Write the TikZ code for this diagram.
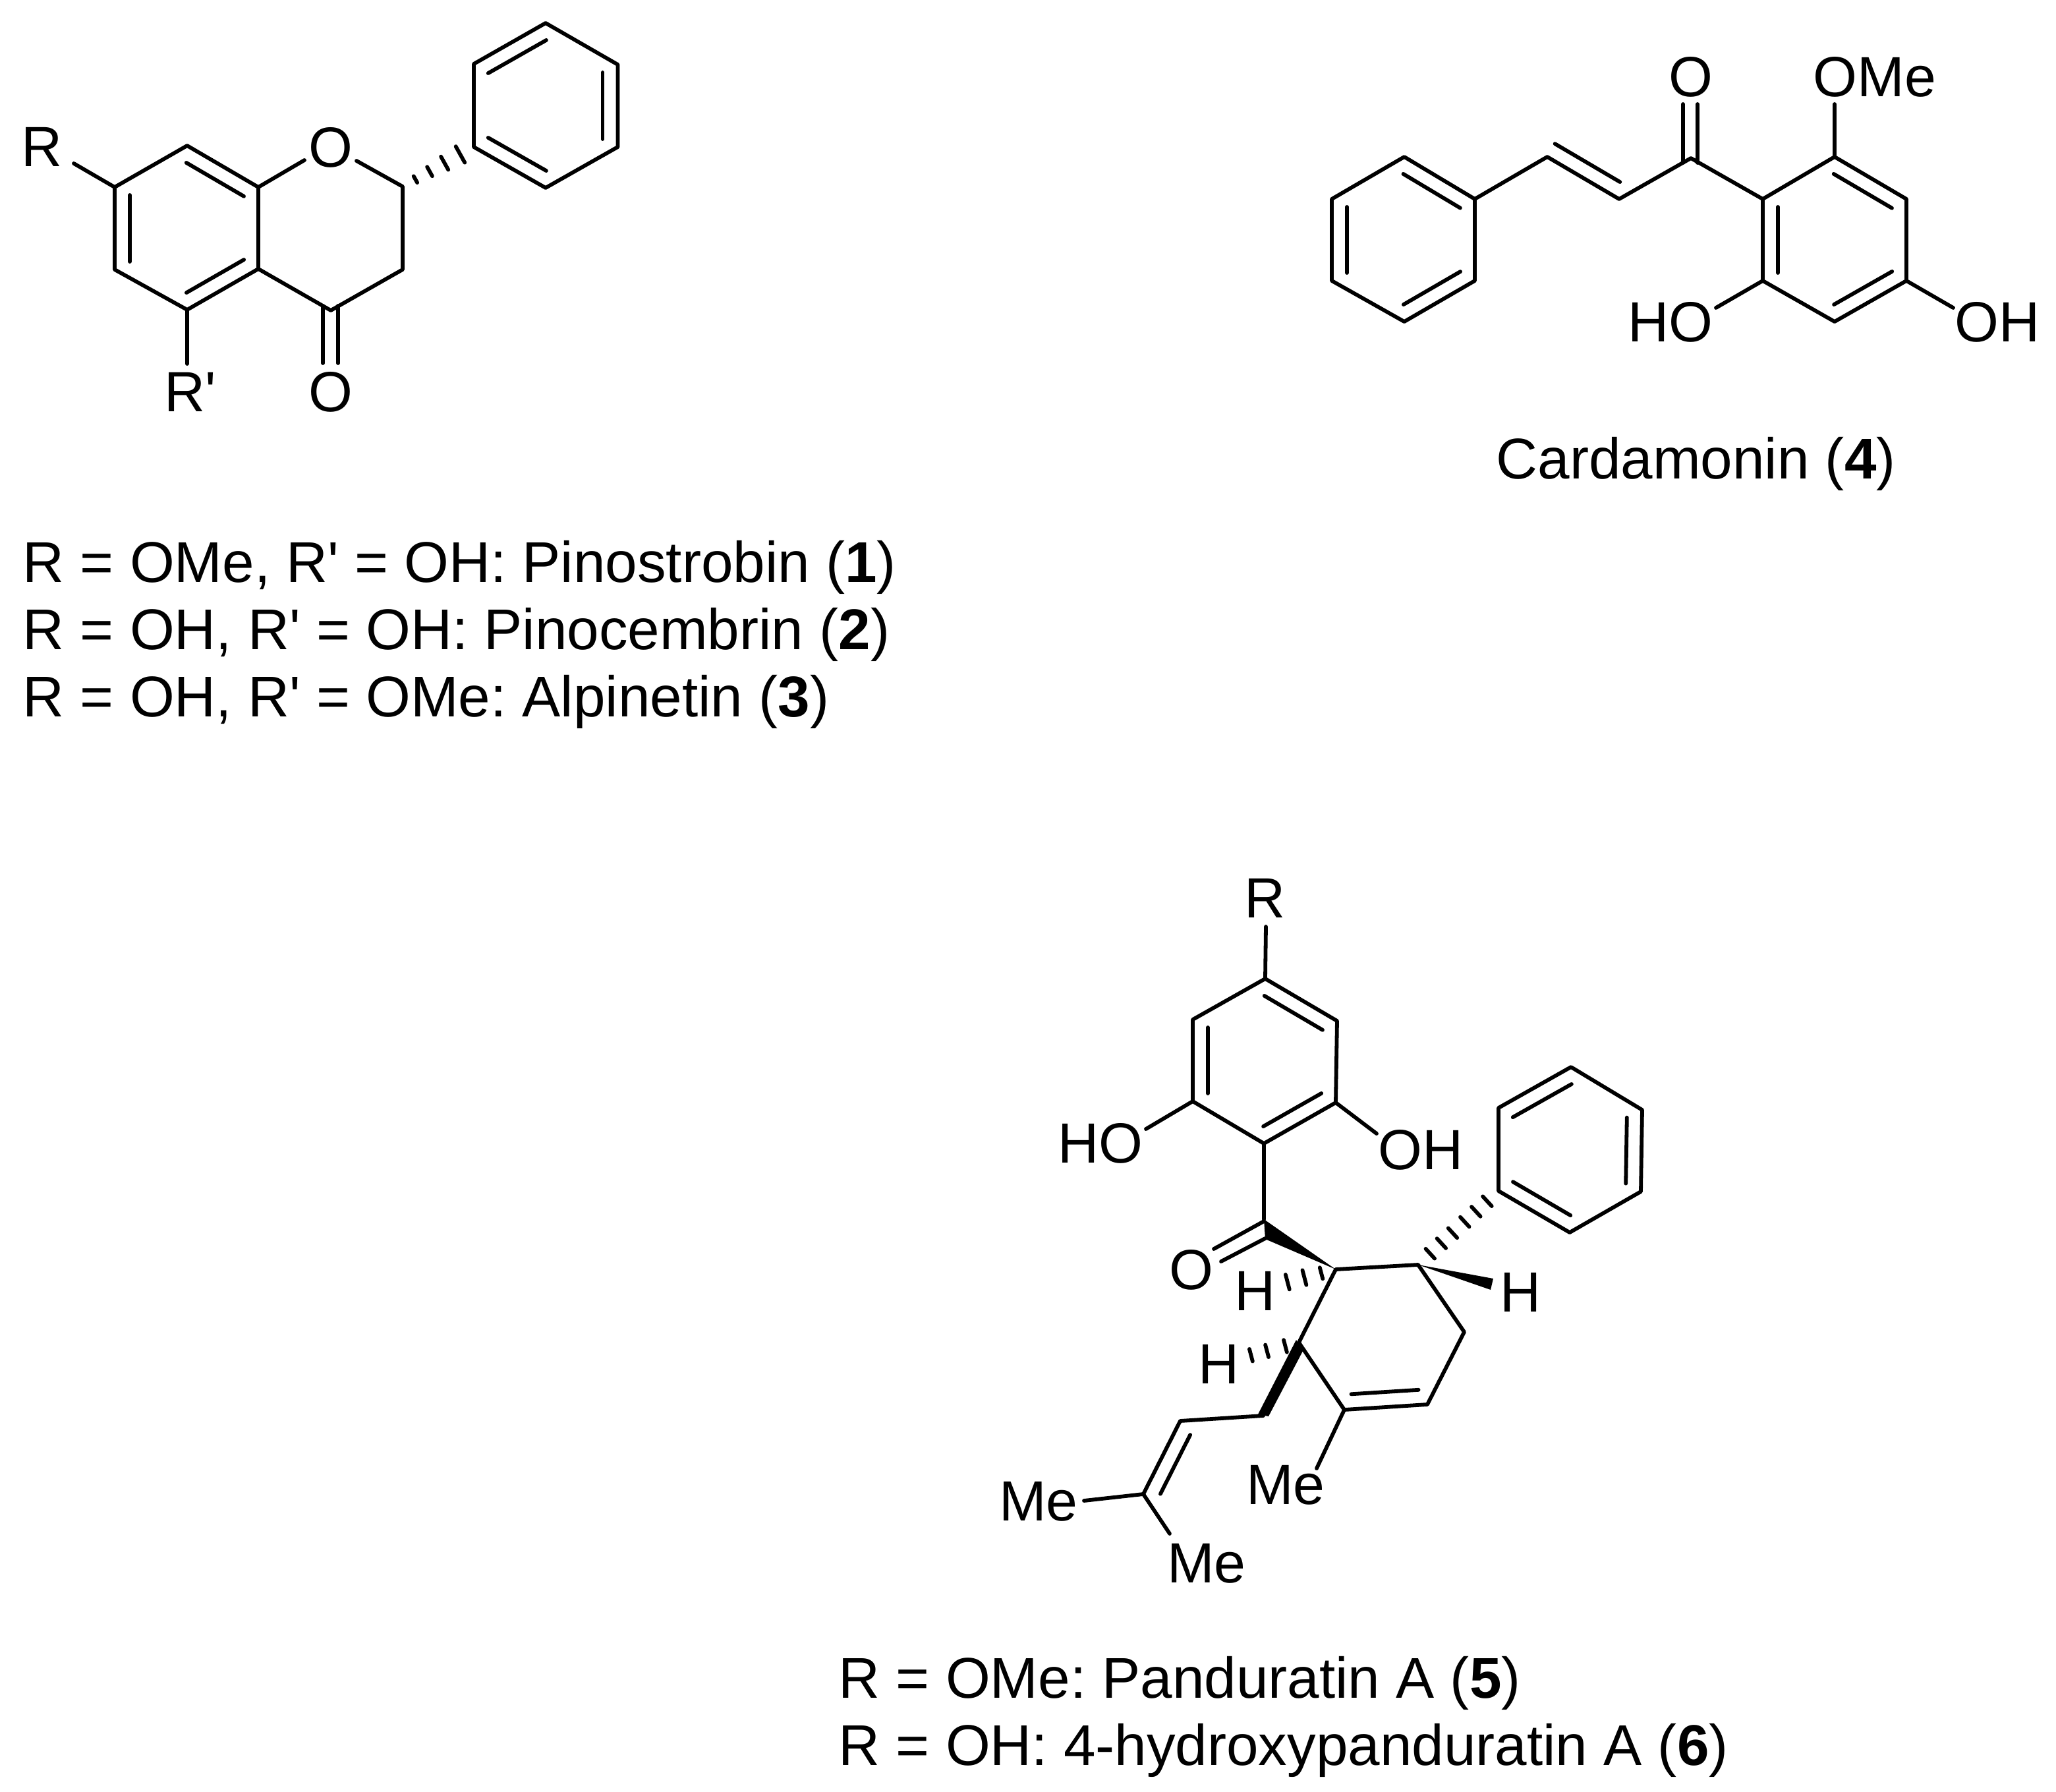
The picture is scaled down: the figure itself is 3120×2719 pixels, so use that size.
\documentclass[tikz,border=0pt]{standalone}
\usepackage{fontspec}
\setmainfont{Liberation Sans}[Ligatures=TeXOff]
\usetikzlibrary{calc}
\frenchspacing
\tikzset{
  bond/.style={line width=1.45pt,line cap=round,line join=round,black},
  hashmark/.style={line width=1.45pt,line cap=round,black},
  lab/.style={inner sep=0pt,font=\frenchspacing\fontsize{21.5}{25}\selectfont,text height=15.4pt,text depth=0pt},
  caption/.style={inner sep=0pt,anchor=base west,font=\frenchspacing\fontsize{21.8}{26}\selectfont},
}
% inner line of a double bond, on the left (on screen) of a -> b
\newcommand{\dbl}[4]{\draw[bond,shorten <=#3pt,shorten >=#4pt] ($(#1)!5.75pt!90:(#2)$) -- ($(#2)!5.75pt!-90:(#1)$);}
\newcommand{\hashb}[3]{\foreach \t/\h in {#3}{\draw[hashmark] ($(#1)!\t!(#2)!\h pt!90:(#2)$) -- ($(#1)!\t!(#2)!\h pt!-90:(#2)$);}}
\begin{document}
\begin{tikzpicture}[x=0.25pt,y=-0.25pt]
\useasboundingbox (0,0) rectangle (3120,2719);

% ---------- flavanone
\foreach \n/\x/\y in {a1/828/35,a2/719/97,a3/719/223,a4/828/285,a5/937.5/223,a6/937.5/98,
  c2/611/283,c3/611/409,c4/502/471,c4a/392/408,c8a/392/284,c8/284/221,c7/174/284,c6/174/409,c5/284/470,
  eR/112/248,eRp/284/552,eOa/462/243,eOb/541/244,
  k1/490/464,k2/490/551,k3/513/464,k4/513/551}
  {\coordinate (\n) at (\x,\y);}
\node[lab] (fR) at (64,222) {R};
\node[lab] (fRp) at (289,594) {R'};
\node[lab] (fO1) at (502,223) {O};
\node[lab] (fO2) at (502,594) {O};
\draw[bond] (a1)--(a2)--(a3)--(a4)--(a5)--(a6)--cycle;
\dbl{a1}{a2}{3}{3}\dbl{a3}{a4}{3}{3}\dbl{a5}{a6}{3}{3}
\draw[bond] (c8)--(c7)--(c6)--(c5)--(c4a)--(c8a)--cycle;
\draw[bond] (c4a)--(c4)--(c3)--(c2)--(eOb);
\draw[bond] (c8a)--(eOa);
\dbl{c8a}{c8}{3}{3}\dbl{c7}{c6}{3}{3}\dbl{c5}{c4a}{3}{3}
\draw[bond] (c7)--(eR);
\draw[bond] (c5)--(eRp);
\draw[bond] (k1)--(k2);
\draw[bond] (k3)--(k4);
\hashb{c2}{a3}{0.18/1.4,0.38/2,0.59/2.85,0.81/3.5}
\node[caption] (t1) at (34,883) {R = OMe, R' = OH: Pinostrobin (\textbf{1})};
\node[caption] (t2) at (34,985) {R = OH, R' = OH: Pinocembrin (\textbf{2})};
\node[caption] (t3) at (34,1087) {R = OH, R' = OMe: Alpinetin (\textbf{3})};

% ---------- cardamonin
\foreach \n/\x/\y in {b1/2131/238,b2/2021/302,b3/2021/426,b4/2131/488,b5/2238/426,b6/2238/302,
  d1/2348/238,d2/2457/302,d3/2566/240,
  r1/2675/302,r2/2675/426,r3/2784/488,r4/2893/426,r5/2893/302,r6/2784/238,
  eO1/2784/158,eHO/2604/467,eOH/2964/467,
  m1/2554/247,m2/2554/158,m3/2576/247,m4/2576/158}
  {\coordinate (\n) at (\x,\y);}
\node[lab] (cO) at (2566,116) {O};
\node[lab] (cOMe) at (2845,116) {OMe};
\node[lab] (cHO) at (2535,488) {HO};
\node[lab] (cOH) at (3031,488) {OH};
\draw[bond] (b1)--(b2)--(b3)--(b4)--(b5)--(b6)--cycle;
\dbl{b2}{b3}{3}{3}\dbl{b4}{b5}{3}{3}\dbl{b6}{b1}{3}{3}
\draw[bond] (b6)--(d1)--(d2)--(d3)--(r1);
\dbl{d1}{d2}{0}{3}
\draw[bond] (r1)--(r2)--(r3)--(r4)--(r5)--(r6)--cycle;
\dbl{r1}{r2}{3}{3}\dbl{r3}{r4}{3}{3}\dbl{r5}{r6}{3}{3}
\draw[bond] (m1)--(m2);
\draw[bond] (m3)--(m4);
\draw[bond] (r6)--(eO1);
\draw[bond] (r2)--(eHO);
\draw[bond] (r4)--(eOH);
\node[caption] (t4) at (2270,726) {Cardamonin (\textbf{4})};

% ---------- panduratin
\foreach \n/\x/\y in {p1/1920/1485,p2/1810/1547,p3/1810/1671,p4/1918/1735,p5/2027/1673,p6/2029/1549,
  q1/2384/1619,q2/2274/1681,q3/2274/1807,q4/2382/1870,q5/2490/1808,q6/2492/1684,
  co/1918/1850,A/2027/1926,B/2152/1919,C/2222/2021,D/2166/2131,E/2040/2139,F/1971/2037,
  w1/1920/1880,w2/2266/1940,w3/2262/1957,
  f1/1967/2033,f2/1977/2050,f3/1925/2149,f4/1909/2146,
  g0/1917/2148,g1/1791/2156,g2/1735/2267,
  eR2/1921/1406,eHO2/1739/1713,eOH2/2089/1720,eMe1/1998/2228,eMe2/1645/2277,eMe3/1775/2327,
  s1/1842/1895,s2/1918/1853,s3/1853/1914,s4/1920/1879}
  {\coordinate (\n) at (\x,\y);}
\node[lab] (pR) at (1920,1362) {R};
\node[lab] (pHO) at (1670,1734) {HO};
\node[lab] (pOH) at (2156,1744) {OH};
\node[lab] (pO) at (1808,1926) {O};
\node[lab] (pHa) at (1905,1958) {H};
\node[lab] (pHb) at (2308,1960) {H};
\node[lab] (pHf) at (1850,2069) {H};
\node[lab] (pMe1) at (1951,2252) {Me};
\node[lab] (pMe2) at (1576,2277) {Me};
\node[lab] (pMe3) at (1831,2371) {Me};
\draw[bond] (p1)--(p2)--(p3)--(p4)--(p5)--(p6)--cycle;
\dbl{p2}{p3}{3}{3}\dbl{p4}{p5}{3}{3}\dbl{p6}{p1}{3}{3}
\draw[bond] (q1)--(q2)--(q3)--(q4)--(q5)--(q6)--cycle;
\dbl{q1}{q2}{3}{3}\dbl{q3}{q4}{3}{3}\dbl{q5}{q6}{3}{3}
\draw[bond] (p1)--(eR2);
\draw[bond] (p3)--(eHO2);
\draw[bond] (p5)--(eOH2);
\draw[bond] (p4)--(co);
\draw[bond] (s1)--(s2);
\draw[bond] (s3)--(s4);
\fill (co)--(w1)--(A)--cycle;
\draw[bond] (A)--(B)--(C)--(D)--(E)--(F)--cycle;
\dbl{E}{D}{3}{3}
\fill (B)--(w2)--(w3)--cycle;
\fill (f1)--(f2)--(f3)--(f4)--cycle;
\draw[bond] (g0)--(g1)--(g2);
\dbl{g1}{g2}{3}{3}
\draw[bond] (g2)--(eMe2);
\draw[bond] (g2)--(eMe3);
\draw[bond] (E)--(eMe1);
\hashb{B}{q3}{0.15/2.5,0.29/2.5,0.43/2.5,0.58/2.5,0.72/2.5,0.86/2.5}
\hashb{A}{pHa.center}{0.18/2.2,0.39/2.9,0.6/2.9}
\hashb{F}{pHf.center}{0.17/2.4,0.4/2.4,0.6/2.4}
\node[caption] (t5) at (1272,2576) {R = OMe: Panduratin A (\textbf{5})};
\node[caption] (t6) at (1272,2678) {R = OH: 4-hydroxypanduratin A (\textbf{6})};
\end{tikzpicture}
\end{document}
